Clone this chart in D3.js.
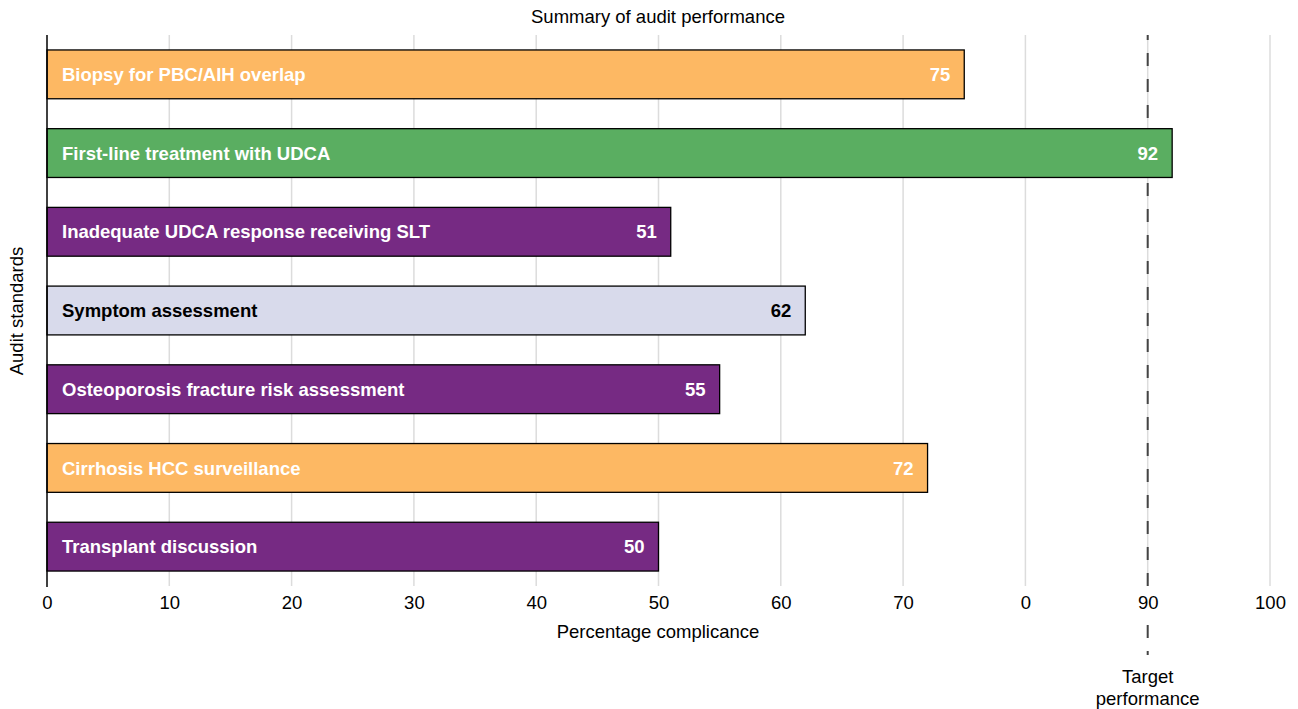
<!DOCTYPE html>
<html><head><meta charset="utf-8">
<script src="https://cdn.jsdelivr.net/npm/d3@7"></script>
<style>body{margin:0;background:#fff;} text{font-family:"Liberation Sans",Arial,sans-serif;}</style>
</head><body>
<svg id="chart" width="1298" height="709"></svg>
<script>
const categories = ["Biopsy for PBC/AIH overlap","First-line treatment with UDCA","Inadequate UDCA response receiving SLT","Symptom assessment","Osteoporosis fracture risk assessment","Cirrhosis HCC surveillance","Transplant discussion"];
const values = [75, 92, 51, 62, 55, 72, 50];
const barColors = ["#fdb863","#5aae61","#762a83","#d8daeb","#762a83","#fdb863","#762a83"];
const labelColors = ["#fff","#fff","#fff","#000","#fff","#fff","#fff"];
const tickValues = [0,10,20,30,40,50,60,70,80,90,100];
const tickLabels = ["0","10","20","30","40","50","60","70","0","90","100"];
const target = 90;

const FS = 18.5;
const svg = d3.select("#chart");
const x = d3.scaleLinear().domain([0,100]).range([47,1270]);
const y = d3.scaleBand().domain(categories).range([35,586]).paddingInner(0.38).paddingOuter(0.19);

// gridlines
svg.append("g").selectAll("line").data(tickValues.filter(d=>d>0)).join("line")
  .attr("x1",d=>x(d)).attr("x2",d=>x(d)).attr("y1",35).attr("y2",586)
  .attr("stroke","#dcdcdc").attr("stroke-width",1.5);

// target line (behind bars)
svg.append("line").attr("x1",x(target)).attr("x2",x(target)).attr("y1",35).attr("y2",655)
  .attr("stroke","#444").attr("stroke-width",2).attr("stroke-dasharray","13,13").attr("stroke-dashoffset",8);

// bars
svg.append("g").selectAll("rect").data(categories).join("rect")
  .attr("x",x(0)).attr("y",d=>y(d))
  .attr("width",(d,i)=>x(values[i])-x(0)).attr("height",y.bandwidth())
  .attr("fill",(d,i)=>barColors[i]).attr("stroke","#000").attr("stroke-width",1.3);

// category labels inside bars
svg.append("g").selectAll("text").data(categories).join("text")
  .attr("x",x(0)+15).attr("y",d=>y(d)+y.bandwidth()/2).attr("dy","0.36em")
  .attr("fill",(d,i)=>labelColors[i]).attr("font-weight","bold").attr("font-size",FS)
  .text(d=>d);

// value labels
svg.append("g").selectAll("text").data(categories).join("text")
  .attr("x",(d,i)=>x(values[i])-14).attr("y",d=>y(d)+y.bandwidth()/2).attr("dy","0.36em")
  .attr("text-anchor","end")
  .attr("fill",(d,i)=>labelColors[i]).attr("font-weight","bold").attr("font-size",FS)
  .text((d,i)=>values[i]);

// white backing behind target tick label
svg.append("rect").attr("x",x(target)-20).attr("y",587).attr("width",40).attr("height",34).attr("fill","#fff");

// x axis
const xAxis = d3.axisBottom(x).tickValues(tickValues).tickFormat((d,i)=>tickLabels[i]).tickSize(0).tickPadding(10);
const gx = svg.append("g").attr("transform","translate(0,586)").call(xAxis);
gx.select(".domain").remove();
gx.selectAll("text").attr("font-size",FS).attr("fill","#000").style("font-family","Liberation Sans, Arial, sans-serif");

// y axis line
svg.append("line").attr("x1",x(0)).attr("x2",x(0)).attr("y1",35).attr("y2",587).attr("stroke","#000").attr("stroke-width",1.5);

svg.append("text").attr("x",x(target)).attr("y",683).attr("text-anchor","middle").attr("font-size",FS).text("Target");
svg.append("text").attr("x",x(target)).attr("y",705).attr("text-anchor","middle").attr("font-size",FS).text("performance");

// titles
svg.append("text").attr("x",658).attr("y",23).attr("text-anchor","middle").attr("font-size",FS).text("Summary of audit performance");
svg.append("text").attr("x",658).attr("y",638).attr("text-anchor","middle").attr("font-size",FS).text("Percentage complicance");
svg.append("text").attr("transform","translate(23,311) rotate(-90)").attr("text-anchor","middle").attr("font-size",FS).text("Audit standards");
</script>
</body></html>
